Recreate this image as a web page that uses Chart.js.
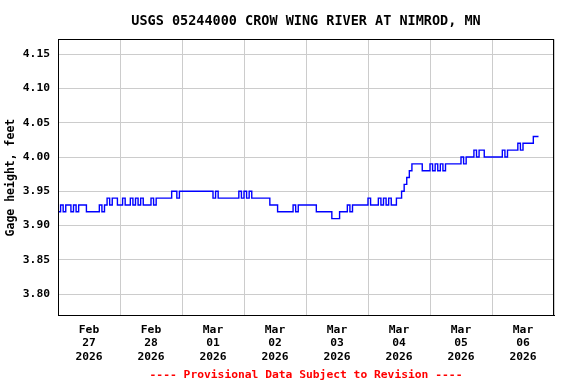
<!DOCTYPE html>
<html>
<head>
<meta charset="utf-8">
<script src="https://cdn.jsdelivr.net/npm/chart.js@4"></script>
<style>
  html, body { margin: 0; padding: 0; background: #ffffff; }
  #wrap { width: 576px; height: 384px; }
</style>
</head>
<body>
<div id="wrap"><canvas id="c" width="576" height="384"></canvas></div>
<script>
// ---- Data (hourly gage height readings starting Feb 27 2026 00:00) ----
const chartTitle = 'USGS 05244000 CROW WING RIVER AT NIMROD, MN';
const yAxisTitle = 'Gage height, feet';
const footerText = '---- Provisional Data Subject to Revision ----';

const dayLabels = [
  ['Feb', '27', '2026'],
  ['Feb', '28', '2026'],
  ['Mar', '01', '2026'],
  ['Mar', '02', '2026'],
  ['Mar', '03', '2026'],
  ['Mar', '04', '2026'],
  ['Mar', '05', '2026'],
  ['Mar', '06', '2026']
];

const yTicks = [3.80, 3.85, 3.90, 3.95, 4.00, 4.05, 4.10, 4.15];

// hours since Feb 27 00:00, one value per hour
const gageHeight = [
  // Feb 27
  3.92, 3.93, 3.92, 3.93, 3.93, 3.92, 3.93, 3.92, 3.93, 3.93, 3.93, 3.92,
  3.92, 3.92, 3.92, 3.92, 3.93, 3.92, 3.93, 3.94, 3.93, 3.94, 3.94, 3.93,
  // Feb 28
  3.93, 3.94, 3.93, 3.93, 3.94, 3.93, 3.94, 3.93, 3.94, 3.93, 3.93, 3.93,
  3.94, 3.93, 3.94, 3.94, 3.94, 3.94, 3.94, 3.94, 3.95, 3.95, 3.94, 3.95,
  // Mar 01
  3.95, 3.95, 3.95, 3.95, 3.95, 3.95, 3.95, 3.95, 3.95, 3.95, 3.95, 3.95,
  3.94, 3.95, 3.94, 3.94, 3.94, 3.94, 3.94, 3.94, 3.94, 3.94, 3.95, 3.94,
  // Mar 02
  3.95, 3.94, 3.95, 3.94, 3.94, 3.94, 3.94, 3.94, 3.94, 3.94, 3.93, 3.93,
  3.93, 3.92, 3.92, 3.92, 3.92, 3.92, 3.92, 3.93, 3.92, 3.93, 3.93, 3.93,
  // Mar 03
  3.93, 3.93, 3.93, 3.93, 3.92, 3.92, 3.92, 3.92, 3.92, 3.92, 3.91, 3.91,
  3.91, 3.92, 3.92, 3.92, 3.93, 3.92, 3.93, 3.93, 3.93, 3.93, 3.93, 3.93,
  // Mar 04
  3.94, 3.93, 3.93, 3.93, 3.94, 3.93, 3.94, 3.93, 3.94, 3.93, 3.93, 3.94,
  3.94, 3.95, 3.96, 3.97, 3.98, 3.99, 3.99, 3.99, 3.99, 3.98, 3.98, 3.98,
  // Mar 05
  3.99, 3.98, 3.99, 3.98, 3.99, 3.98, 3.99, 3.99, 3.99, 3.99, 3.99, 3.99,
  4.00, 3.99, 4.00, 4.00, 4.00, 4.01, 4.00, 4.01, 4.01, 4.00, 4.00, 4.00,
  // Mar 06
  4.00, 4.00, 4.00, 4.00, 4.01, 4.00, 4.01, 4.01, 4.01, 4.01, 4.02, 4.01,
  4.02, 4.02, 4.02, 4.02, 4.03, 4.03, 4.03
];

const xMinHour = 0;
const xMaxHour = 192;
const yMin = 3.768;
const yMax = 4.172;

// ---- Chart ----
const FONT = '"DejaVu Sans Mono", "Liberation Mono", monospace';
const GRID = '#cccccc';

const points = gageHeight.map((v, i) => ({ x: i, y: v }));

const frame = {
  id: 'frame',
  afterDraw(chart) {
    const a = chart.chartArea, ctx = chart.ctx;
    ctx.save();
    ctx.strokeStyle = '#000000';
    ctx.lineWidth = 1;
    ctx.strokeRect(Math.round(a.left) + 0.5, Math.round(a.top) + 0.5,
                   Math.round(a.right - a.left) - 1, Math.round(a.bottom - a.top) - 1);
    ctx.restore();
  }
};

new Chart(document.getElementById('c'), {
  type: 'line',
  data: {
    datasets: [{
      data: points,
      borderColor: '#0000ff',
      borderWidth: 1.4,
      pointRadius: 0,
      stepped: true,
      fill: false,
      tension: 0
    }]
  },
  options: {
    responsive: false,
    animation: false,
    devicePixelRatio: 1,
    layout: { padding: { left: 0, right: 22, top: 0, bottom: 0 } },
    plugins: {
      legend: { display: false },
      tooltip: { enabled: false },
      title: {
        display: true,
        text: chartTitle,
        fullSize: false,
        color: '#000000',
        font: { family: FONT, size: 13.5, weight: 'bold' },
        padding: { top: 13, bottom: 10 }
      },
      subtitle: {
        display: true,
        text: footerText,
        position: 'bottom',
        fullSize: false,
        color: '#ff0000',
        font: { family: FONT, size: 11.3, weight: 'bold' },
        padding: { top: 0, bottom: 2 }
      }
    },
    scales: {
      x: {
        type: 'linear',
        min: xMinHour,
        max: xMaxHour,
        afterBuildTicks(scale) {
          const t = [];
          for (let h = xMinHour; h <= xMaxHour; h += 12) t.push({ value: h });
          scale.ticks = t;
        },
        afterFit(scale) { scale.height = 52.5; },
        grid: {
          drawTicks: false,
          color: (ctx) => (ctx.tick && ctx.tick.value % 24 === 0) ? GRID : 'rgba(0,0,0,0)',
          lineWidth: 1
        },
        border: { display: true, color: '#000000' },
        ticks: {
          autoSkip: false,
          maxRotation: 0,
          minRotation: 0,
          padding: 7,
          color: '#000000',
          font: { family: FONT, size: 11.3, weight: 'bold', lineHeight: 1.2 },
          callback: (v) => (v % 24 === 12) ? dayLabels[(v - 12) / 24] : ''
        }
      },
      y: {
        type: 'linear',
        min: yMin,
        max: yMax,
        afterBuildTicks(scale) {
          scale.ticks = yTicks.map(v => ({ value: v }));
        },
        afterFit(scale) { scale.width = 58; },
        grid: { drawTicks: false, color: GRID, lineWidth: 1 },
        border: { display: true, color: '#000000' },
        title: {
          display: true,
          text: yAxisTitle,
          color: '#000000',
          font: { family: FONT, size: 11.5, weight: 'bold' },
          padding: { top: 4, bottom: 0 }
        },
        ticks: {
          padding: 8,
          color: '#000000',
          font: { family: FONT, size: 11.3, weight: 'bold' },
          callback: (v) => Number(v).toFixed(2)
        }
      }
    }
  },
  plugins: [frame]
});
</script>
</body>
</html>
